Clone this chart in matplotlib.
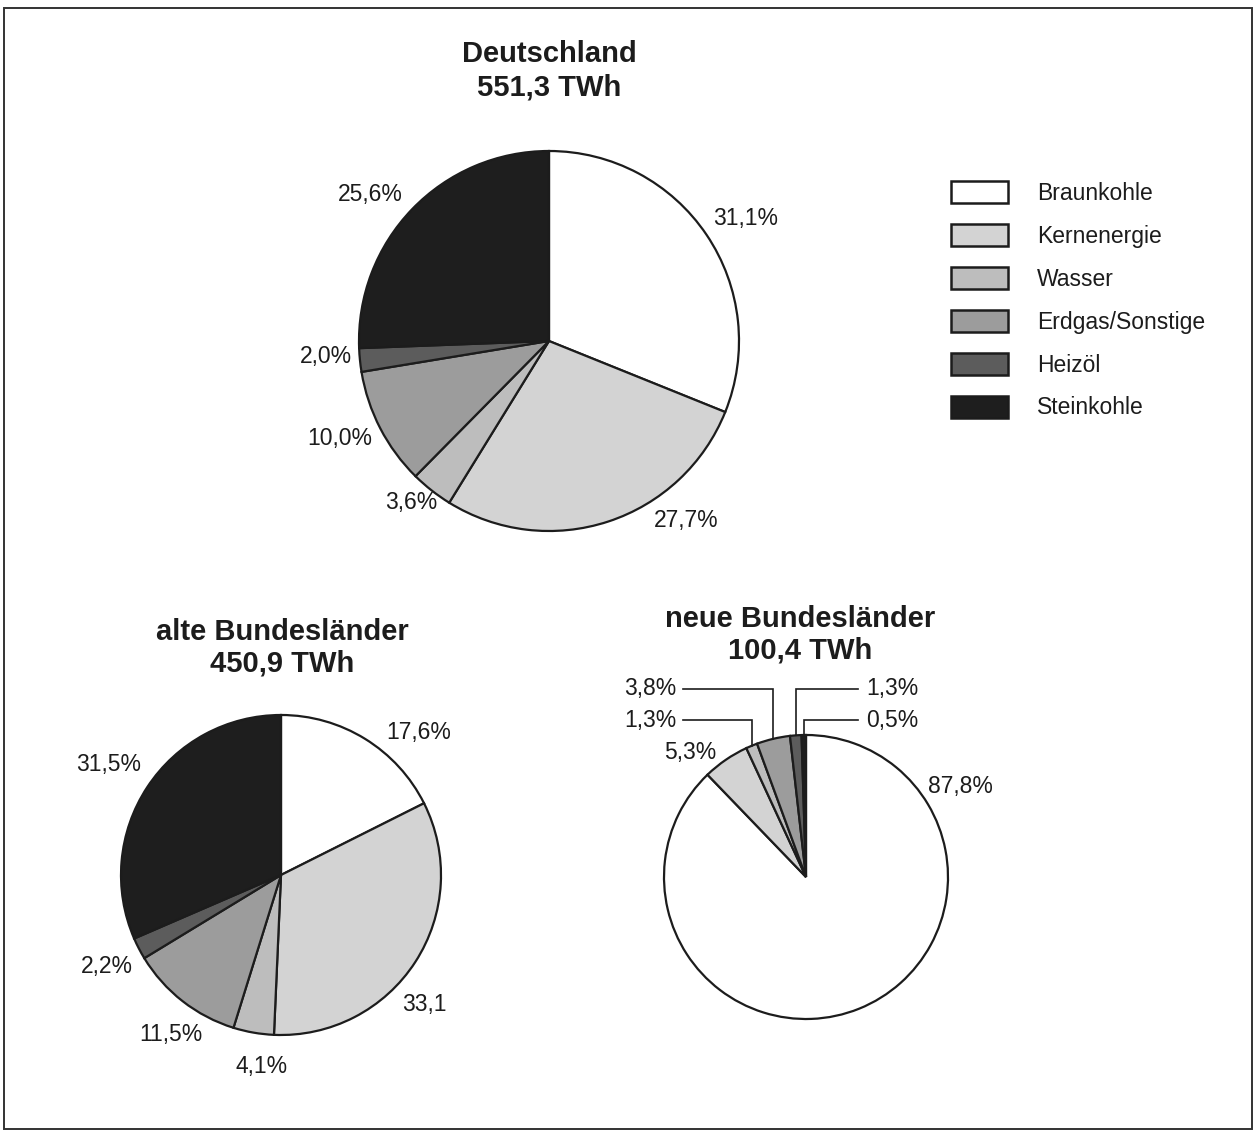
import numpy as np
import matplotlib.pyplot as plt
from matplotlib.patches import Rectangle

plt.rcParams['font.family'] = ['Liberation Sans', 'DejaVu Sans']

W, H = 1255, 1133
ink = '#1c1c1c'

sources = ['Braunkohle', 'Kernenergie', 'Wasser', 'Erdgas/Sonstige', 'Heizöl', 'Steinkohle']
colors = ['#ffffff', '#d3d3d3', '#bdbdbd', '#9c9c9c', '#5c5c5c', '#1e1e1e']

# Anteile der Energieträger an der Stromerzeugung in %
de_share = [31.1, 27.7, 3.6, 10.0, 2.0, 25.6]
alt_share = [17.6, 33.1, 4.1, 11.5, 2.2, 31.5]
neu_share = [87.8, 5.3, 1.3, 3.8, 1.3, 0.5]

de_title = 'Deutschland\n551,3 TWh'
alt_title = 'alte Bundesländer\n450,9 TWh'
neu_title = 'neue Bundesländer\n100,4 TWh'


def fmt(v, pct=True):
    s = f'{v:.1f}'.replace('.', ',')
    return s + '%' if pct else s


fig = plt.figure(figsize=(W / 100, H / 100), dpi=100)
ax = fig.add_axes([0, 0, 1, 1])


def draw_pie(values, cx, cy, r):
    wedges, _ = ax.pie(values, colors=colors, startangle=90, counterclock=False,
                       radius=r, center=(cx, H - cy),
                       wedgeprops=dict(edgecolor=ink, linewidth=1.6))
    return wedges


def label(x, y, s, ha='center'):
    ax.text(x, H - y, s, fontsize=16.5, color=ink, ha=ha, va='center')


def title(x, y, s, ls=1.15):
    ax.text(x, H - y, s, fontsize=21, fontweight='bold', color=ink,
            ha='center', va='center', linespacing=ls)


# Deutschland
draw_pie(de_share, 549, 341, 190)
title(549, 71, de_title, ls=1.25)
de_pos = [(746, 219), (686, 520), (411, 503), (340, 438), (326, 357), (370, 194)]
for v, (x, y) in zip(de_share, de_pos):
    label(x, y, fmt(v))

# alte Bundesländer
draw_pie(alt_share, 281, 875, 160)
title(282, 648, alt_title)
alt_pos = [(419, 733), (424, 1004), (262, 1066), (171, 1035), (107, 967), (109, 765)]
for i, (v, (x, y)) in enumerate(zip(alt_share, alt_pos)):
    label(x, y, fmt(v, pct=(i != 1)))

# neue Bundesländer
ncx, ncy, nr = 806, 877, 142
wedges = draw_pie(neu_share, ncx, ncy, nr)
title(800, 635, neu_title)
label(960, 786, fmt(neu_share[0]))
label(690, 752, fmt(neu_share[1]))

# kleine Segmente mit Hinweislinien: (Index, Zeilenhöhe, Seite)
leaders = [(3, 689, 'left'), (2, 720, 'left'), (4, 689, 'right'), (5, 720, 'right')]
for i, ly, side in leaders:
    w = wedges[i]
    mid = np.deg2rad((w.theta1 + w.theta2) / 2)
    mx = ncx + nr * np.cos(mid)
    my = (H - ncy) + nr * np.sin(mid)
    end = 683 if side == 'left' else 858
    ax.plot([end, mx, mx], [H - ly, H - ly, my], color=ink, lw=1.2,
            solid_joinstyle='miter')
    if side == 'left':
        label(676, ly, fmt(neu_share[i]), ha='right')
    else:
        label(866, ly, fmt(neu_share[i]), ha='left')

# Legende
for k, (name, c) in enumerate(zip(sources, colors)):
    yc = 192 + k * 43
    ax.add_patch(Rectangle((951, H - yc - 11), 57, 22, facecolor=c,
                           edgecolor=ink, linewidth=1.8))
    ax.text(1037, H - yc - 1, name, fontsize=16.5, color=ink, va='center')

# Rahmen
ax.add_patch(Rectangle((4, H - 1129), 1248, 1121, fill=False,
                       edgecolor='#333333', linewidth=1.4))

ax.set_xlim(0, W)
ax.set_ylim(0, H)
ax.set_aspect('equal')
ax.axis('off')

fig.savefig('out.png', dpi=100, facecolor='white')
